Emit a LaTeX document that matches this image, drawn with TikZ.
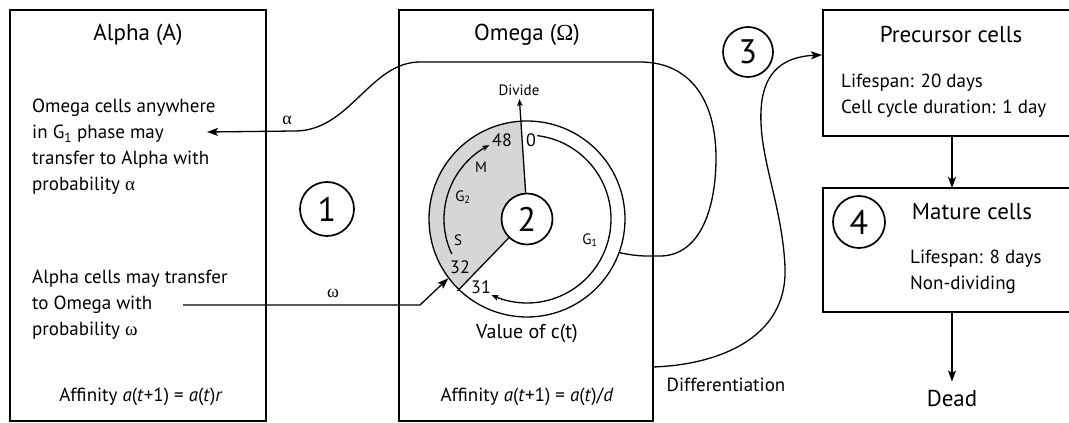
\documentclass[tikz,border=0pt]{standalone}
\usepackage{fontspec}
\setmainfont{PT Sans}
\newfontfamily\grk{Liberation Serif}
\usetikzlibrary{arrows.meta,bending}
\begin{document}
\begin{tikzpicture}[x=1pt,y=1pt,
 box/.style={draw, line width=2pt, inner sep=0pt, outer sep=0pt},
 conn/.style={line width=1.3pt},
 tip/.style={-{Stealth[length=11pt,width=8pt,inset=2.5pt]}},
 smalltip/.style={-{Stealth[length=7pt,width=5.5pt,inset=1.5pt]}},
 numc/.style={circle, draw, line width=1.7pt, minimum size=52pt, inner sep=0pt, font=\fontsize{34}{34}\selectfont},
 body/.style={font=\fontsize{19}{26}\selectfont, align=left, inner sep=0pt},
 ttl/.style={font=\fontsize{23}{26}\selectfont, inner sep=0pt},
 small/.style={font=\fontsize{15}{15}\selectfont, inner sep=0pt},
 num/.style={font=\fontsize{18}{18}\selectfont, inner sep=0pt},
]
\useasboundingbox (0,0) rectangle (1069,423);
\clip (0,0) rectangle (1069,423);
\fill[white] (0,0) rectangle (1069,423);

% boxes
\node[box, minimum width=256, minimum height=411, anchor=north west] (alpha) at (10,413) {};
\node[box, minimum width=254, minimum height=411, anchor=north west] (omega) at (399,413) {};
\node[box, minimum width=258, minimum height=126, anchor=north west] (prec) at (823,413) {};
\node[box, minimum width=258, minimum height=124, anchor=north west] (mature) at (823,235) {};

% cycle
\coordinate (C) at (527,204);
\fill[black!16] (C) -- ([shift={(93.6:98)}]C) arc[start angle=93.6, end angle=226, radius=98] -- cycle;
\node[circle, draw, line width=1.3pt, minimum size=196, inner sep=0pt] (ring) at (C) {};
\node[numc, fill=white, minimum size=51] (c2) at (C) {2};
\draw[conn] (c2.226) -- ([shift={(226:100)}]C);
\coordinate (divtip) at (519.4,324);
\draw[conn, smalltip] (c2.93.6) -- (divtip);
\draw[conn, smalltip] ([shift={(83:84)}]C) arc[start angle=83, end angle=-115, radius=84];
\draw[conn, smalltip] ([shift={(205:83)}]C) arc[start angle=205, end angle=117, radius=83];

% labels in omega
\node[small, anchor=base] (divide) at (519,327) {Divide};
\node[num] (n48) at (502,283) {48};
\node[num] (n0) at (531,283) {0};
\node[small] (lm) at (481,256) {M};
\node[small] (lg2) at (463,226) {G\textsubscript{2}};
\node[small] (ls) at (458,183) {S};
\node[num] (n32) at (460,156) {32};
\node[num] (n31) at (481,136) {31};
\node[small] (lg1) at (590,183) {G\textsubscript{1}};
\node[body, font=\fontsize{20}{26}\selectfont] (val) at (527,89) {Value of c(t)};
\node[ttl] (otitle) at (527,388) {Omega ({\grk Ω})};
\node[body] (oaff) at (527,26) {Affinity \textit{a}(\textit{t}+1) = \textit{a}(\textit{t})/\textit{d}};

% alpha texts
\node[ttl] (atitle) at (138,388) {Alpha (A)};
\node[body, anchor=west] (atext1) at (32,276) {Omega cells anywhere\\in G\textsubscript{1} phase may\\transfer to Alpha with\\probability {\grk α}};
\node[body, anchor=west] (atext2) at (32,118) {Alpha cells may transfer\\to Omega with\\probability {\grk ω}};
\node[body] (aaff) at (141,26) {Affinity \textit{a}(\textit{t}+1) = \textit{a}(\textit{t})\textit{r}};

% numbered circles
\node[numc, minimum size=54] (c1) at (327,214) {1};
\node[numc, minimum size=50] (c3) at (748,371) {3};
\node[numc, minimum size=52] (c4) at (859,201) {4};

% right texts
\node[ttl] (ptitle) at (951,388) {Precursor cells};
\node[body, anchor=west] (ptext) at (841,327) {Lifespan: 20 days\\Cell cycle duration: 1 day};
\node[ttl] (mtitle) at (972,211) {Mature cells};
\node[body, anchor=west] (mtext) at (910,151) {Lifespan: 8 days\\Non-dividing};
\node[ttl] (dead) at (952,25) {Dead};
\node[body] (diff) at (726,38) {Differentiation};

% connectors
\coordinate (atip) at (207,291);
\draw[conn, tip] (ring.-20) .. controls (640,166) and (650,167) .. (662,167)
  .. controls (702,169) and (716,218) .. (716,265)
  .. controls (716,323) and (690,361) .. (640,361) -- (420,361)
  .. controls (370,361) and (350,292) .. (295,292) -- (atip);
\node[num] (lalpha) at (287,303) {\grk α};

\coordinate (wstart) at (183,118);
\coordinate (wbend) at (420,118);
\draw[conn, tip] (wstart) -- (wbend) -- (ring.217);
\node[num] (lomega) at (333,130) {\grk ω};

\coordinate (dstart) at (653,56);
\coordinate (dend) at (822,368);
\draw[conn, tip] (dstart) .. controls (715,58) and (788,83) .. (785,156)
  .. controls (782,223) and (755,273) .. (762,323)
  .. controls (768,361) and (795,368) .. (dend);

\draw[conn, tip] (prec.south) -- (mature.north);
\draw[conn, tip] (mature.south) -- ([yshift=8pt]dead.north);
\end{tikzpicture}
\end{document}
